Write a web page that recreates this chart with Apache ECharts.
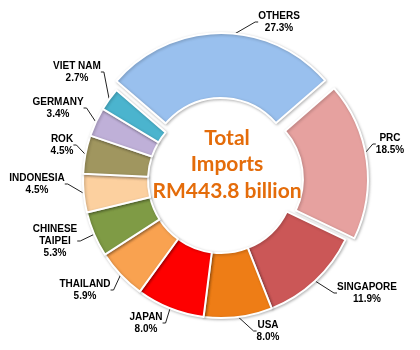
<!DOCTYPE html>
<html>
<head>
<meta charset="utf-8">
<script src="https://cdn.jsdelivr.net/npm/echarts@6/dist/echarts.min.js"></script>
<style>
  html, body { margin: 0; padding: 0; background: #fff; }
  #chart { width: 420px; height: 350px; }
</style>
</head>
<body>
<div id="chart"></div>
<script>
// Share of total imports by source (percent), clockwise from PRC
const countries = ['PRC', 'SINGAPORE', 'USA', 'JAPAN', 'THAILAND', 'CHINESE\nTAIPEI',
                   'INDONESIA', 'ROK', 'GERMANY', 'VIET NAM', 'OTHERS'];
const shares = [18.5, 11.9, 8.0, 8.0, 5.9, 5.3, 4.5, 4.5, 3.4, 2.7, 27.3];
const sliceColors = ['#E6A19F', '#CB5757', '#EE7D16', '#FE0000', '#F9A250', '#7F9B45',
                     '#FCD09F', '#A0965F', '#BFB0D8', '#4BB4CE', '#99C0EE'];
const explodedSlices = ['PRC', 'OTHERS'];
const centreLines = ['Total', 'Imports', 'RM443.8 billion'];

// Where each callout label sits (centre of the text block), same order as countries
const labelAnchors = [
  [390, 144], [367, 293], [268, 331], [146, 323], [85, 290], [55, 241],
  [37, 184], [62, 145], [58, 108], [77, 72], [279, 22]
];

const PIE_CENTER = [221, 180];
const PIE_RADIUS = [73, 138];
const START_ANGLE = 41;
const LABEL_FONT = 'Liberation Sans, Arial, sans-serif';

const chart = echarts.init(document.getElementById('chart'));

// Coloured ring; the two largest blocks are pulled out of the ring
const ringData = countries.map((name, i) => ({
  name: name,
  value: shares[i],
  selected: explodedSlices.includes(name),
  itemStyle: { color: sliceColors[i] }
}));

// Same ring, invisible, carrying the callout labels and leader lines
const labelData = countries.map((name, i) => ({ name: name, value: shares[i] }));

chart.setOption({
  animation: false,
  graphic: [{
    type: 'text',
    x: 227,
    y: 164.5,
    z: 100,
    style: {
      text: centreLines.join('\n'),
      font: 'bold 21px Lato, "Open Sans", sans-serif',
      fill: '#E46C0A',
      align: 'center',
      verticalAlign: 'middle',
      lineHeight: 26.5
    }
  }],
  series: [{
    type: 'pie',
    z: 3,
    center: PIE_CENTER,
    radius: PIE_RADIUS,
    startAngle: START_ANGLE,
    clockwise: true,
    selectedMode: 'multiple',
    selectedOffset: 9,
    silent: true,
    itemStyle: {
      borderColor: '#fff',
      borderWidth: 2,
      shadowBlur: 3,
      shadowColor: 'rgba(0,0,0,0.25)',
      shadowOffsetX: 1,
      shadowOffsetY: 1
    },
    emphasis: { disabled: true },
    label: { show: false },
    labelLine: { show: false },
    data: ringData
  }, {
    type: 'pie',
    z: 1,
    center: PIE_CENTER,
    radius: PIE_RADIUS,
    startAngle: START_ANGLE,
    clockwise: true,
    silent: true,
    avoidLabelOverlap: false,
    itemStyle: { color: 'rgba(0,0,0,0)', borderWidth: 0 },
    emphasis: { disabled: true },
    label: {
      show: true,
      position: 'outside',
      formatter: p => p.name.split('\n').map(s => '{c|' + s + '}').join('\n') +
                      '\n{c|' + p.value.toFixed(1) + '%}',
      fontFamily: LABEL_FONT,
      fontWeight: 'bold',
      fontSize: 10,
      lineHeight: 12,
      color: '#000',
      rich: {
        c: {
          align: 'center',
          fontFamily: LABEL_FONT,
          fontWeight: 'bold',
          fontSize: 10,
          lineHeight: 12,
          color: '#000'
        }
      }
    },
    labelLine: {
      show: true,
      length: 8,
      length2: 3,
      lineStyle: { color: '#222', width: 1 }
    },
    labelLayout: p => ({
      x: labelAnchors[p.dataIndex][0],
      y: labelAnchors[p.dataIndex][1],
      align: 'center',
      verticalAlign: 'middle',
      hideOverlap: false
    }),
    data: labelData
  }]
});
</script>
</body>
</html>
